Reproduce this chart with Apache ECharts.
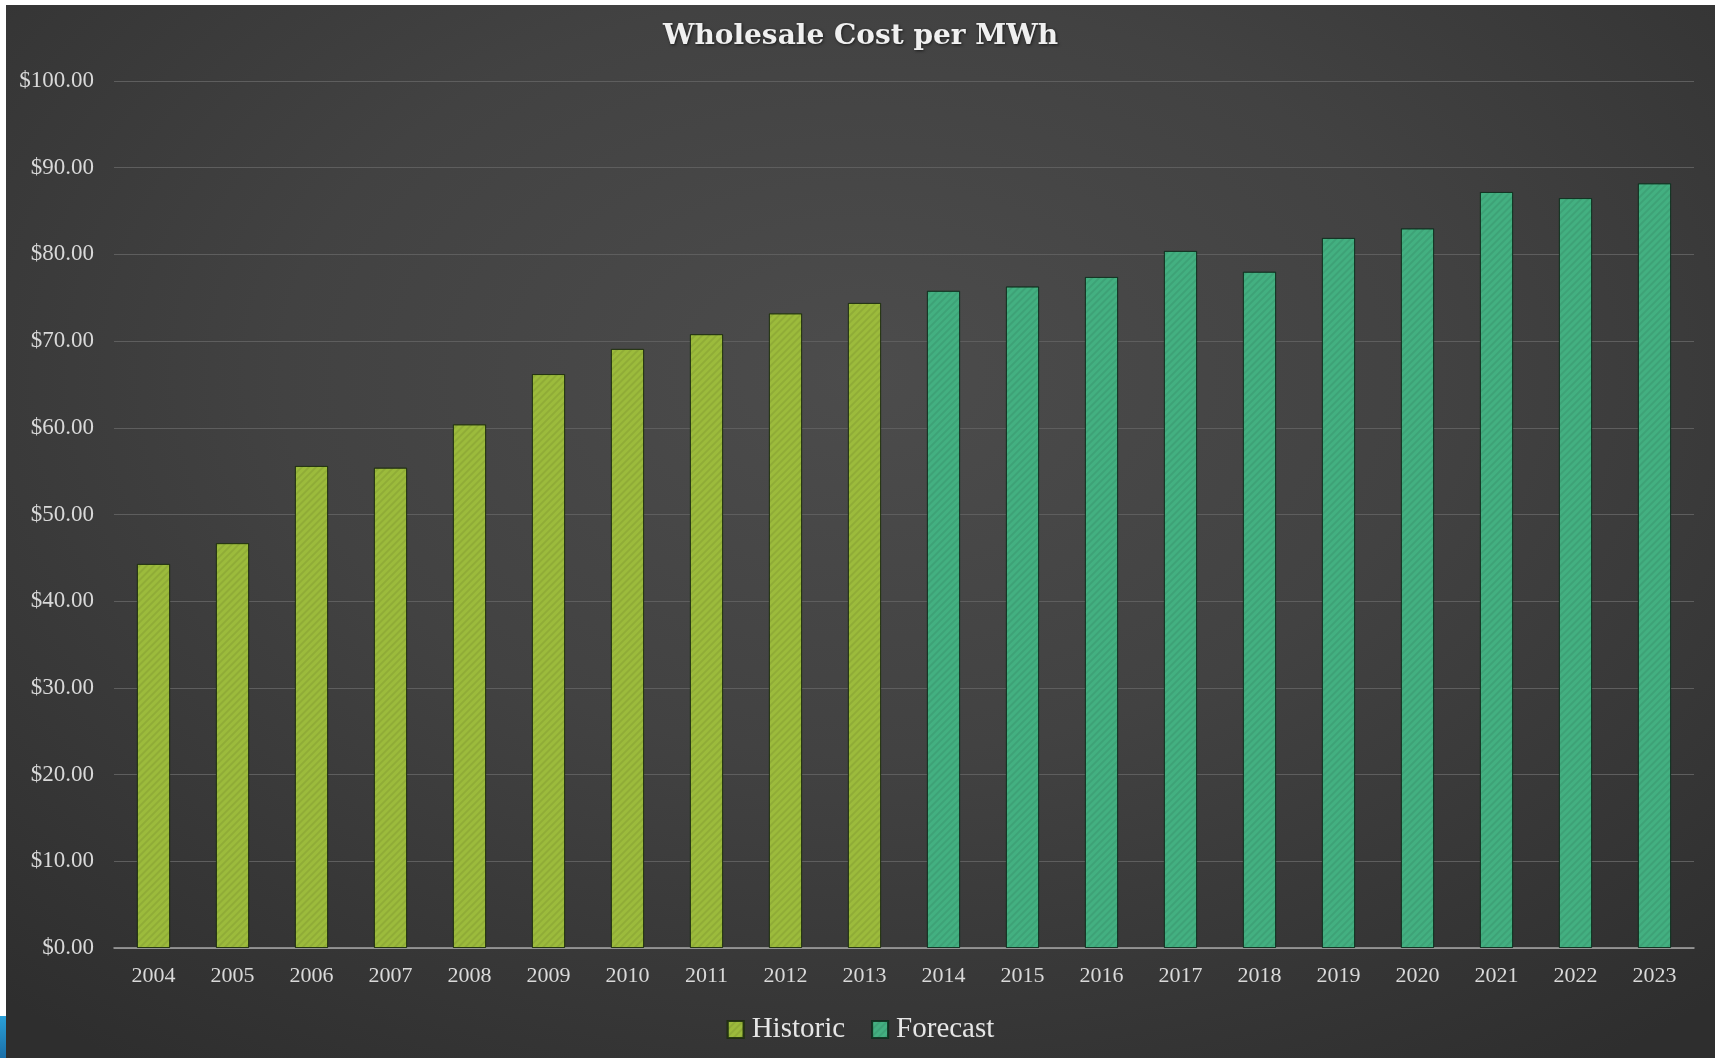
<!DOCTYPE html>
<html>
<head>
<meta charset="utf-8">
<script src="https://cdn.jsdelivr.net/npm/echarts@6/dist/echarts.min.js"></script>
<style>
html,body{margin:0;padding:0;background:#fff;width:1719px;height:1058px;overflow:hidden;}
#chart{position:absolute;left:6px;top:5px;width:1709px;height:1053px;
background:radial-gradient(ellipse 75% 80% at 50% 35%, #4c4c4c 0%, #424242 45%, #2e2e2e 100%);}
#deco{position:absolute;left:0;top:1016px;width:7px;height:42px;background:linear-gradient(180deg,#2aa0d8,#1b6fa8);}
</style>
</head>
<body>
<div id="deco"></div>
<div id="chart"></div>
<script>
const years = ['2004','2005','2006','2007','2008','2009','2010','2011','2012','2013','2014','2015','2016','2017','2018','2019','2020','2021','2022','2023'];
const historic = [44.3, 46.7, 55.6, 55.4, 60.4, 66.2, 69.1, 70.8, 73.2, 74.4, null, null, null, null, null, null, null, null, null, null];
const forecast = [null, null, null, null, null, null, null, null, null, null, 75.8, 76.3, 77.4, 80.4, 78.0, 81.9, 83.0, 87.2, 86.5, 88.2];
const yTicks = {min: 0, max: 100, interval: 10};

const chart = echarts.init(document.getElementById('chart'));
const serif = '"Liberation Serif", "DejaVu Serif", serif';
const decal = {symbol: 'rect', symbolSize: 1, color: 'rgba(0,0,0,0.08)', dashArrayX: [1, 0], dashArrayY: [2, 3], rotation: -Math.PI / 4};
chart.setOption({
  backgroundColor: 'transparent',
  aria: {enabled: true, decal: {show: true}, label: {enabled: false}},
  animation: false,
  title: {
    text: 'Wholesale Cost per MWh', left: 'center', top: 13,
    textStyle: {fontFamily: '"DejaVu Serif", serif', fontSize: 28, fontWeight: 'bold', color: '#f0f0f0',
      textShadowColor: 'rgba(0,0,0,0.6)', textShadowBlur: 3, textShadowOffsetX: 1, textShadowOffsetY: 1}
  },
  legend: {
    bottom: 9, left: 'center', itemWidth: 16, itemHeight: 17, itemGap: 26,
    icon: 'rect',
    textStyle: {fontFamily: serif, fontSize: 29, color: '#e6e6e6', padding: [0, 0, 0, 3]},
    data: ['Historic', 'Forecast']
  },
  grid: {left: 108, right: 21, top: 76, bottom: 110, containLabel: false},
  xAxis: {
    type: 'category', data: years,
    axisLine: {lineStyle: {color: '#a6a6a6', width: 1.5}},
    axisTick: {show: false},
    axisLabel: {fontFamily: serif, fontSize: 22, color: '#d9d9d9', margin: 17}
  },
  yAxis: {
    type: 'value', min: yTicks.min, max: yTicks.max, interval: yTicks.interval,
    axisLine: {show: false}, axisTick: {show: false},
    splitLine: {lineStyle: {color: '#5e5e5e', width: 1}},
    axisLabel: {fontFamily: serif, fontSize: 23, color: '#d9d9d9', margin: 20,
      formatter: v => '$' + v.toFixed(2)}
  },
  series: [
    {name: 'Historic', type: 'bar', stack: 'all', data: historic, barWidth: '42%',
     itemStyle: {color: '#9cbb3c', borderColor: 'rgba(30,45,15,0.7)', borderWidth: 1, decal: decal}},
    {name: 'Forecast', type: 'bar', stack: 'all', data: forecast, barWidth: '42%',
     itemStyle: {color: '#43b081', borderColor: 'rgba(15,45,30,0.7)', borderWidth: 1, decal: decal}}
  ]
});
</script>
</body>
</html>
